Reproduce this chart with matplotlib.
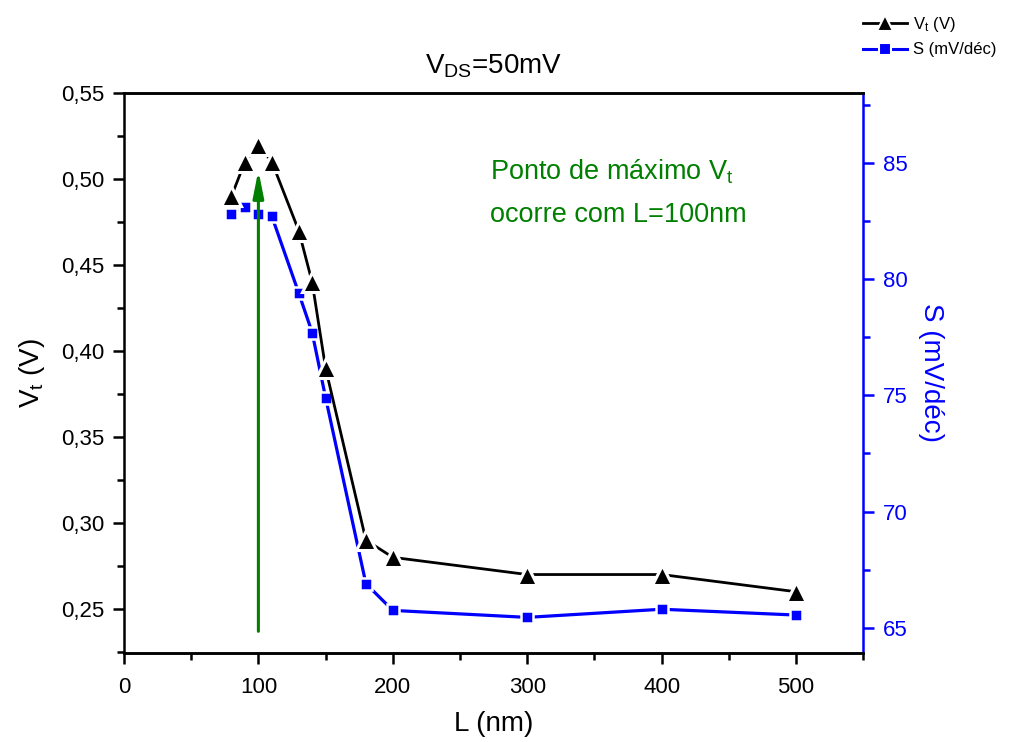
import matplotlib
matplotlib.use("Agg")
import matplotlib.pyplot as plt
from matplotlib.ticker import MultipleLocator, FuncFormatter
from matplotlib.lines import Line2D

plt.rcParams['font.family'] = ['Liberation Sans', 'DejaVu Sans']
plt.rcParams['mathtext.default'] = 'regular'

L_nm = [80, 90, 100, 110, 130, 140, 150, 180, 200, 300, 400, 500]
Vt = [0.49, 0.51, 0.52, 0.51, 0.47, 0.44, 0.39, 0.29, 0.28, 0.27, 0.27, 0.26]
S = [82.8, 83.1, 82.8, 82.7, 79.4, 77.7, 74.9, 66.9, 65.75, 65.45, 65.8, 65.55]

arrow_x = 100
arrow_y = [0.237, 0.505]

fig = plt.figure(figsize=(10.12, 7.42), dpi=100)
ax = fig.add_axes([0.1225, 0.12, 0.7305, 0.7547])
ax2 = ax.twinx()

blue = '#0000ff'
green = '#007f00'

ax2.plot(L_nm, S, color=blue, lw=2.3, zorder=2)
ax2.plot(L_nm, S, ls='none', marker='s', ms=8, mfc=blue, mec='white', mew=1.8, zorder=3)

ax.set_zorder(ax2.get_zorder() + 1)
ax.patch.set_visible(False)
ax.plot(L_nm, Vt, color='black', lw=2.0, zorder=2)
ax.plot(L_nm, Vt, ls='none', marker='^', ms=15, mfc='black', mec='white', mew=2.2, zorder=3)

ax.annotate('', xy=(arrow_x, arrow_y[1]), xytext=(arrow_x, arrow_y[0]),
            arrowprops=dict(arrowstyle='-|>,head_length=1.6,head_width=0.32', color=green, lw=2.2,
                            shrinkA=0, shrinkB=0), zorder=4)

ax.text(272, 0.504, 'Ponto de máximo V$_t$', color=green, fontsize=19.5, ha='left', va='center')
ax.text(272, 0.479, 'ocorre com L=100nm', color=green, fontsize=19.5, ha='left', va='center')

ax.set_xlim(0, 550)
ax.set_ylim(0.2244, 0.55)
ax2.set_ylim(63.92, 88.0)

ax.xaxis.set_major_locator(MultipleLocator(100))
ax.xaxis.set_minor_locator(MultipleLocator(50))
ax.yaxis.set_major_locator(MultipleLocator(0.05))
ax.yaxis.set_minor_locator(MultipleLocator(0.025))
ax.yaxis.set_major_formatter(FuncFormatter(lambda v, p: f"{v:.2f}".replace('.', ',')))
ax2.yaxis.set_major_locator(MultipleLocator(5))
ax2.yaxis.set_minor_locator(MultipleLocator(2.5))

for a in (ax, ax2):
    for s in a.spines.values():
        s.set_linewidth(1.8)
ax.spines['right'].set_visible(False)
ax2.spines['left'].set_visible(False)
ax.tick_params(which='major', direction='out', length=8, width=1.8, labelsize=16, pad=6)
ax.tick_params(which='minor', direction='out', length=5, width=1.8)
ax.tick_params(axis='x', which='major', pad=9)
ax.tick_params(axis='x', which='both', top=False)
ax.tick_params(axis='y', which='both', right=False)
ax2.spines['right'].set_color(blue)
ax2.tick_params(axis='y', which='major', direction='out', length=8, width=1.8, colors=blue, labelsize=16, pad=6)
ax2.tick_params(axis='y', which='minor', direction='out', length=5, width=1.8, colors=blue)

ax.set_xlabel('L (nm)', fontsize=20, labelpad=10)
ax.set_ylabel('V$_t$ (V)', fontsize=20, labelpad=10)
ax2.set_ylabel('S (mV/déc)', fontsize=20, color=blue, rotation=270, labelpad=26)
ax.set_title('V$_{DS}$=50mV', fontsize=20, pad=14)

handles = [Line2D([], [], color='black', lw=2, marker='^', ms=12, mfc='black', mec='white', mew=1.5),
           Line2D([], [], color=blue, lw=2.2, marker='s', ms=8, mfc=blue, mec='white', mew=1.5)]
fig.legend(handles, ['V$_t$ (V)', 'S (mV/déc)'], loc='upper right', bbox_to_anchor=(1.0, 1.0),
           frameon=False, fontsize=12, handlelength=2.6, handletextpad=0.4, labelspacing=0.5)

fig.savefig('out.png', dpi=100)
